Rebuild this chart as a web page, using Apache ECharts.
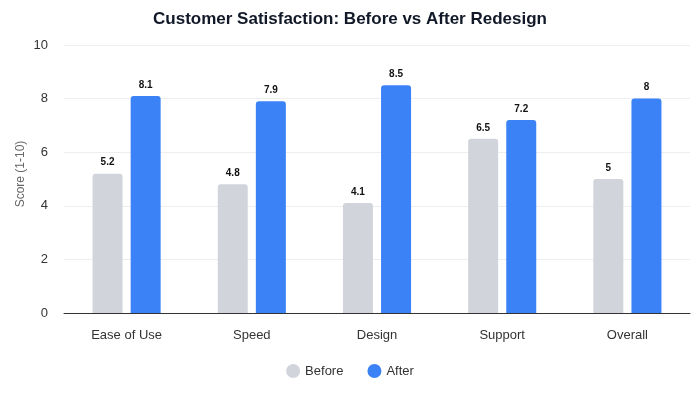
<!DOCTYPE html>
<html>
<head>
<meta charset="utf-8">
<script src="https://cdn.jsdelivr.net/npm/echarts@6/dist/echarts.min.js"></script>
<style>html,body{margin:0;padding:0;background:#fff}#c{width:700px;height:400px}</style>
</head>
<body>
<div id="c"></div>
<script>
const categories = ['Ease of Use', 'Speed', 'Design', 'Support', 'Overall'];
const beforeValues = [5.2, 4.8, 4.1, 6.5, 5];
const afterValues = [8.1, 7.9, 8.5, 7.2, 8];
const chart = echarts.init(document.getElementById('c'));
const font = 'Helvetica, Arial, "Liberation Sans", sans-serif';
chart.setOption({
  animation: false,
  title: {
    text: 'Customer Satisfaction: Before vs After Redesign',
    left: 'center', top: 6,
    textStyle: { fontSize: 17, fontWeight: 'bold', color: '#111827', fontFamily: font }
  },
  legend: {
    bottom: 17, left: 'center', icon: 'circle', itemWidth: 14, itemHeight: 14, itemGap: 24,
    textStyle: { fontSize: 13, color: '#333', fontFamily: font },
    data: ['Before', 'After']
  },
  grid: { left: 64, right: 10, top: 45, bottom: 87 },
  xAxis: {
    type: 'category', data: categories,
    axisLine: { lineStyle: { color: '#333' } },
    axisTick: { show: false },
    axisLabel: { fontSize: 13, color: '#333', margin: 16, fontFamily: font }
  },
  yAxis: {
    type: 'value', min: 0, max: 10, interval: 2,
    name: 'Score (1-10)', nameLocation: 'middle', nameGap: 37, nameMoveOverlap: false,
    nameTextStyle: { fontSize: 12, color: '#666', fontFamily: font, padding: [0, 0, 0, 10] },
    axisLabel: { fontSize: 13, color: '#333', margin: 16, fontFamily: font },
    splitLine: { lineStyle: { color: '#eeeeee' } }
  },
  series: [
    {
      name: 'Before', type: 'bar', data: beforeValues, barWidth: 30, barGap: '27%',
      itemStyle: { color: '#d1d5db', borderRadius: [3, 3, 0, 0] },
      label: { show: true, position: 'top', fontSize: 10, fontWeight: 'bold', color: '#111', distance: 6, fontFamily: font }
    },
    {
      name: 'After', type: 'bar', data: afterValues, barWidth: 30,
      itemStyle: { color: '#3b82f6', borderRadius: [3, 3, 0, 0] },
      label: { show: true, position: 'top', fontSize: 10, fontWeight: 'bold', color: '#111', distance: 6, fontFamily: font }
    }
  ]
});
</script>
</body>
</html>
